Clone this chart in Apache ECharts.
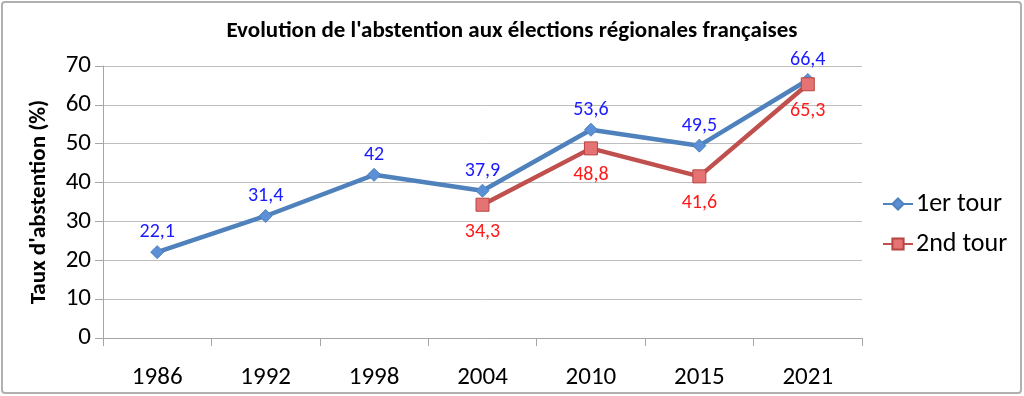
<!DOCTYPE html>
<html><head><meta charset="utf-8">
<script src="https://cdn.jsdelivr.net/npm/echarts@6/dist/echarts.min.js"></script>
<style>html,body{margin:0;padding:0;background:#fff}#c{width:1024px;height:396px}</style>
</head><body><div id="c"></div>
<script>
const categories = ['1986','1992','1998','2004','2010','2015','2021'];
const tour1 = [22.1, 31.4, 42, 37.9, 53.6, 49.5, 66.4];
const tour2 = [null, null, null, 34.3, 48.8, 41.6, 65.3];
const yTicks = [0, 10, 20, 30, 40, 50, 60, 70];

const FONT = "Carlito, 'Liberation Sans Narrow', 'Open Sans', sans-serif";
const fmt = p => String(p.value).replace('.', ',');
const chart = echarts.init(document.getElementById('c'));
chart.setOption({
  animation: false,
  textStyle: { fontFamily: FONT },
  graphic: [{ type: 'rect', shape: { x: 2, y: 2, width: 1019, height: 391, r: 3 },
    style: { fill: 'none', stroke: '#b0b0b0', lineWidth: 2 }, silent: true }],
  title: { text: "Evolution de l'abstention aux élections régionales françaises",
    left: 'center', top: 15,
    textStyle: { fontFamily: FONT, fontSize: 23, fontWeight: 'bold', color: '#000' } },
  grid: { left: 103, right: 162, top: 66, bottom: 58 },
  legend: {
    orient: 'vertical', left: 877, top: 186, itemGap: 14, itemWidth: 30, itemHeight: 14,
    textStyle: { fontFamily: FONT, fontSize: 26, color: '#000', padding: [0, 0, 0, -2] },
    data: ['1er tour', '2nd tour']
  },
  xAxis: {
    type: 'category', data: categories, boundaryGap: true,
    axisLine: { lineStyle: { color: '#a6a6a6', width: 1 } },
    axisTick: { show: true, length: 8, lineStyle: { color: '#a6a6a6' } },
    axisLabel: { color: '#000', fontSize: 25, margin: 27, fontFamily: FONT }
  },
  yAxis: {
    type: 'value', min: yTicks[0], max: yTicks[yTicks.length - 1], interval: 10,
    name: "Taux d'abstention (%)", nameLocation: 'middle', nameGap: 52,
    nameTextStyle: { fontFamily: FONT, fontSize: 23, fontWeight: 'bold', color: '#000' },
    axisLine: { show: true, lineStyle: { color: '#a6a6a6' } },
    axisTick: { show: true, length: 8, lineStyle: { color: '#a6a6a6' } },
    axisLabel: { color: '#000', fontSize: 25, margin: 12, fontFamily: FONT },
    splitLine: { lineStyle: { color: '#bfbfbf', width: 1 } }
  },
  series: [
    { name: '1er tour', type: 'line', data: tour1, symbol: 'diamond', symbolSize: 13,
      lineStyle: { color: '#4F81BD', width: 4.5 },
      itemStyle: { color: '#5B8FD6', borderColor: '#4F81BD', borderWidth: 1 },
      label: { show: true, position: 'top', distance: 3, color: '#1a1aff', fontSize: 20,
        fontFamily: FONT, formatter: fmt }, z: 3 },
    { name: '2nd tour', type: 'line', data: tour2, symbol: 'rect', symbolSize: 13,
      lineStyle: { color: '#C0504D', width: 4.5 },
      itemStyle: { color: '#E57373', borderColor: '#B84441', borderWidth: 1 },
      label: { show: true, position: 'bottom', distance: 10, color: '#ff1a1a', fontSize: 20,
        fontFamily: FONT, formatter: fmt }, z: 4 }
  ]
});
</script></body></html>
